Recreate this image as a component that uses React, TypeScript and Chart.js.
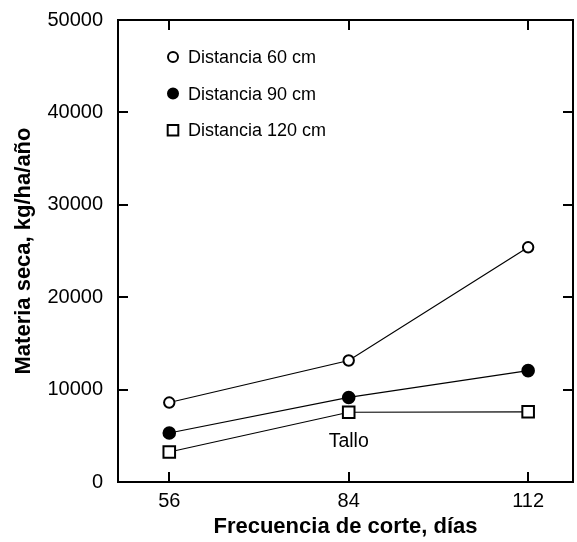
import React, { useEffect, useRef } from "react";
import { Chart, registerables } from "chart.js";

Chart.register(...registerables);

// ---- data ----
const days = [56, 84, 112];
const dist60 = [8600, 13150, 25400];
const dist90 = [5300, 9150, 12050];
const dist120 = [3250, 7550, 7600];
const yTickValues = [0, 10000, 20000, 30000, 40000, 50000];
const seriesLabels = ["Distancia 60 cm", "Distancia 90 cm", "Distancia 120 cm"];
const xTitle = "Frecuencia de corte, días";
const yTitle = "Materia seca, kg/ha/año";
const noteText = "Tallo";
const noteX = 84;
const noteY = 4400;

const FONT = "'Liberation Sans', Arial, Helvetica, sans-serif";

function drawMarker(ctx: CanvasRenderingContext2D, style: string, fill: string, x: number, y: number, r: number) {
  ctx.save();
  ctx.lineWidth = 2;
  ctx.strokeStyle = "#000";
  ctx.fillStyle = fill;
  ctx.beginPath();
  if (style === "rect") {
    const s = r * Math.SQRT1_2;
    ctx.rect(x - s, y - s, 2 * s, 2 * s);
  } else {
    ctx.arc(x, y, r, 0, Math.PI * 2);
  }
  ctx.fill();
  ctx.stroke();
  ctx.restore();
}

const framePlugin = {
  id: "frameTicks",
  afterDatasetsDraw(chart: any) {
    const { ctx, chartArea } = chart;
    const { left, right, top, bottom } = chartArea;
    const xs = chart.scales.x;
    const ys = chart.scales.y;
    const tl = 10;
    ctx.save();
    ctx.strokeStyle = "#000";
    ctx.lineWidth = 2;
    ctx.strokeRect(left, top, right - left, bottom - top);
    ctx.beginPath();
    xs.ticks.forEach((t: any) => {
      const px = Math.round(xs.getPixelForValue(t.value));
      ctx.moveTo(px, bottom);
      ctx.lineTo(px, bottom - tl);
      ctx.moveTo(px, top);
      ctx.lineTo(px, top + tl);
    });
    ys.ticks.forEach((t: any) => {
      const py = Math.round(ys.getPixelForValue(t.value));
      ctx.moveTo(left, py);
      ctx.lineTo(left + tl, py);
      ctx.moveTo(right, py);
      ctx.lineTo(right - tl, py);
    });
    ctx.stroke();

    // note text
    ctx.fillStyle = "#000";
    ctx.font = `19.5px ${FONT}`;
    ctx.textAlign = "center";
    ctx.textBaseline = "middle";
    ctx.fillText(noteText, xs.getPixelForValue(noteX), ys.getPixelForValue(noteY));

    // legend inside plot
    const ds = chart.data.datasets;
    ctx.font = `18px ${FONT}`;
    ctx.textAlign = "left";
    ds.forEach((d: any, i: number) => {
      const mx = left + 55;
      const my = top + 37 + i * 36.6;
      drawMarker(ctx, d.pointStyle, d.pointBackgroundColor, mx, my, d.pointStyle === "rect" ? 7.5 : 5);
      ctx.fillStyle = "#000";
      ctx.fillText(d.label, mx + 15, my + 1);
    });
    ctx.restore();
  },
};

export default function App() {
  const ref = useRef<HTMLCanvasElement>(null);
  useEffect(() => {
    if (!ref.current) return;
    const mk = (label: string, vals: number[], style: string, fill: string, r: number) => ({
      label,
      data: days.map((d, i) => ({ x: d, y: vals[i] })),
      borderColor: "#000",
      borderWidth: 1.2,
      pointStyle: style,
      pointBackgroundColor: fill,
      pointBorderColor: "#000",
      pointBorderWidth: 2,
      pointRadius: r,
      pointHoverRadius: r,
      fill: false,
      tension: 0,
    });
    const chart = new Chart(ref.current, {
      type: "line",
      data: {
        datasets: [
          mk(seriesLabels[0], dist60, "circle", "#fff", 5.2),
          mk(seriesLabels[1], dist90, "circle", "#000", 5.8),
          mk(seriesLabels[2], dist120, "rect", "#fff", 8.2),
        ] as any,
      },
      options: {
        animation: false,
        responsive: false,
        layout: { autoPadding: false, padding: { top: 20, right: 4, left: 0, bottom: 0 } },
        plugins: { legend: { display: false }, tooltip: { enabled: false } },
        scales: {
          x: {
            type: "linear",
            min: 48,
            max: 119,
            afterBuildTicks: (s: any) => {
              s.ticks = days.map((v) => ({ value: v }));
            },
            afterFit: (s: any) => {
              s.height = 60;
              s.paddingLeft = 0;
              s.paddingRight = 0;
            },
            grid: { display: false, drawTicks: false },
            border: { display: false },
            ticks: {
              color: "#000",
              font: { family: FONT, size: 20 },
              padding: 7,
              callback: (v: any) => String(v),
            },
            title: {
              display: true,
              text: xTitle,
              color: "#000",
              font: { family: FONT, size: 22, weight: "bold" },
              padding: { top: 0, bottom: 2 },
            },
          },
          y: {
            type: "linear",
            min: 0,
            max: 50000,
            afterBuildTicks: (s: any) => {
              s.ticks = yTickValues.map((v) => ({ value: v }));
            },
            afterFit: (s: any) => {
              s.width = 118;
              s.paddingTop = 0;
              s.paddingBottom = 0;
            },
            grid: { display: false, drawTicks: false },
            border: { display: false },
            ticks: {
              color: "#000",
              font: { family: FONT, size: 20 },
              padding: 15,
              callback: (v: any) => String(v),
            },
            title: {
              display: true,
              text: yTitle,
              color: "#000",
              font: { family: FONT, size: 22, weight: "bold" },
              padding: { top: 11, bottom: 0 },
            },
          },
        },
      },
      plugins: [framePlugin],
    });
    return () => chart.destroy();
  }, []);
  return (
    <div style={{ position: "absolute", left: 0, top: 0, width: 577, height: 542, background: "#fff" }}>
      <canvas ref={ref} width={577} height={542} style={{ display: "block" }} />
    </div>
  );
}
